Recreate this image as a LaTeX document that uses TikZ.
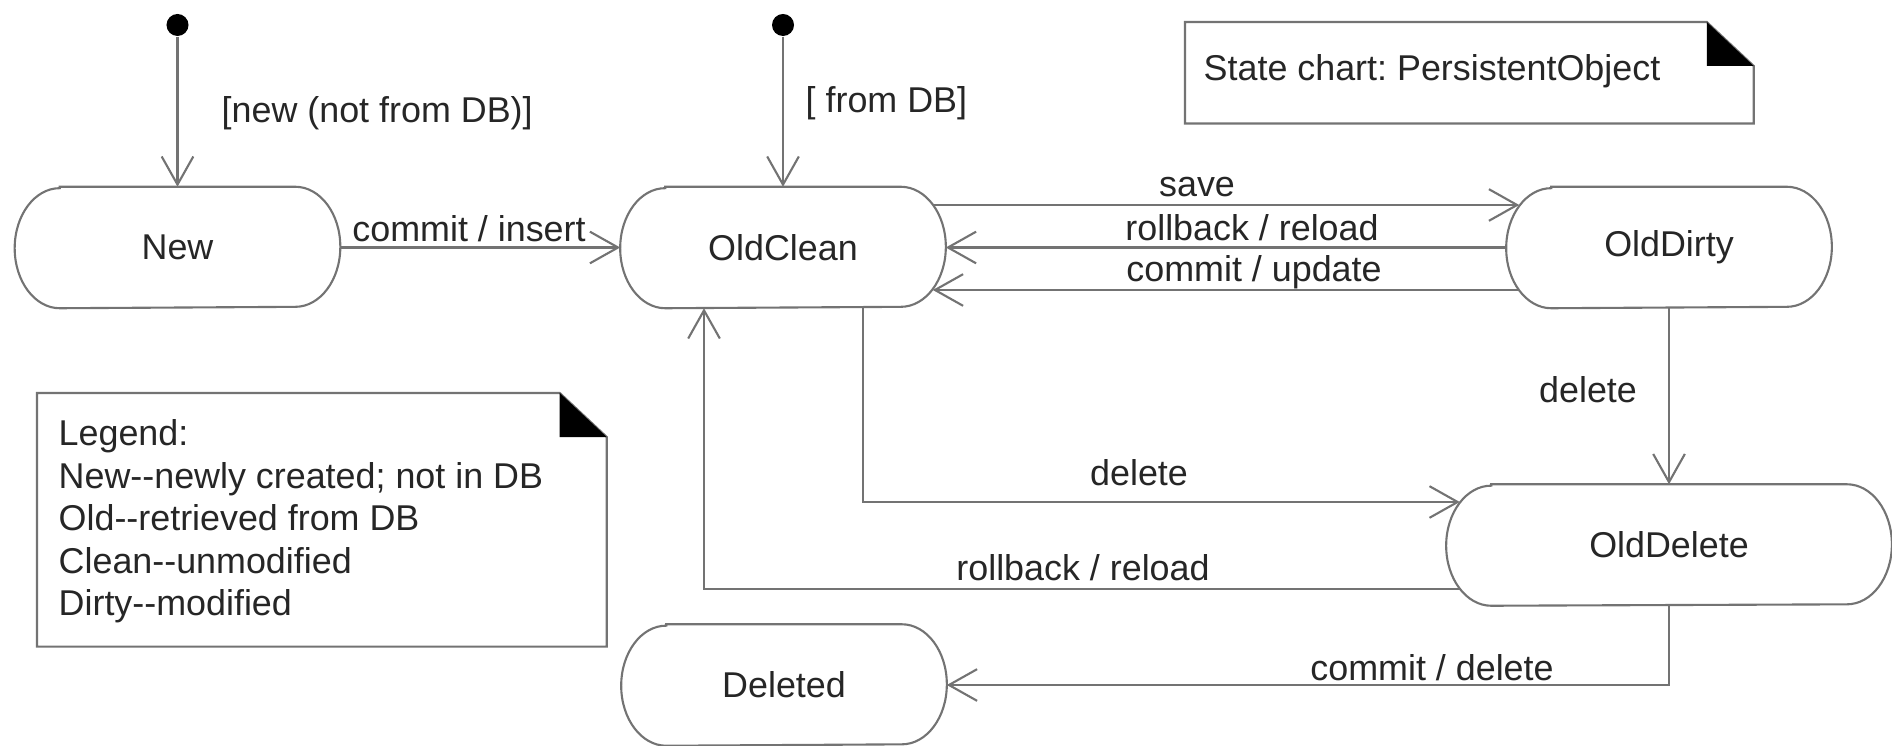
\documentclass[tikz,border=0pt]{standalone}
\usepackage{fontspec}
\setmainfont{Liberation Sans}
\usetikzlibrary{arrows.meta,calc}
\frenchspacing

% two plain hyphens, kept apart from the TeX en-dash ligature
\newcommand\dhyph{-\kern0pt-}

% outline of a state: straight top and bottom, elliptic ends
\newcommand\stateoutline[1]{%
  \draw[line] ($(#1.north west)+(45,0)$) -- ($(#1.north east)+(-45,0)$)
    arc[start angle=90, end angle=-90, x radius=0.45cm, y radius=0.6cm]
    -- ($(#1.south west)+(45,0)$)
    arc[start angle=270, end angle=90, x radius=0.45cm, y radius=0.6cm] -- cycle;}

% UML note with a black folded corner
\newcommand\noteoutline[1]{%
  \draw[line] (#1.north west) -- ($(#1.north east)+(-47,0)$)
    -- ($(#1.north east)+(0,-44)$) -- (#1.south east) -- (#1.south west) -- cycle;
  \fill[black] ($(#1.north east)+(-47,0)$) -- ($(#1.north east)+(-47,-44)$)
    -- ($(#1.north east)+(0,-44)$) -- cycle;}

\begin{document}
\begin{tikzpicture}[x=0.01cm, y=0.01cm,
  line/.style={draw=black!55, line width=0.6pt},
  trans/.style={line, -{Straight Barb[length=8pt,width=9pt]}},
  lbl/.style={inner sep=0pt, text=black!85, font=\fontsize{10.2pt}{12.1pt}\selectfont},
  stbox/.style={lbl, draw=none, minimum height=1.2cm, minimum width=3.24cm},
  notebox/.style={draw=none, inner sep=0pt, anchor=north west},
  dot/.style={circle, fill=black, inner sep=0pt, minimum size=0.22cm},
]
\useasboundingbox (0,0) rectangle (1892,-746);

% states
\node[stbox] (new)       at (177.5,-247.5) {New};
\node[stbox] (oldclean)  at (783,-247.5)   {OldClean};
\node[stbox] (olddirty)  at (1669,-247.5)  {OldDirty};
\node[stbox, minimum width=4.44cm] (olddelete) at (1669,-545) {OldDelete};
\node[stbox] (deleted)   at (784,-685)     {Deleted};
\stateoutline{new}
\stateoutline{oldclean}
\stateoutline{olddirty}
\stateoutline{olddelete}
\stateoutline{deleted}

% initial pseudo-states
\node[dot] (init1) at (177.5,-25) {};
\node[dot] (init2) at (783,-25) {};

% transitions
\draw[trans] (init1) -- (new.north);
\draw[trans] (init2) -- (oldclean.north);
\draw[trans] (new.east) -- (oldclean.west);
\draw[trans] ($(oldclean.east)+(-13,42.5)$) -- ($(olddirty.west)+(13,42.5)$);
\draw[trans] (olddirty.west) -- (oldclean.east);
\draw[trans] ($(olddirty.west)+(13,-42.5)$) -- ($(oldclean.east)+(-13,-42.5)$);
\draw[trans] ($(oldclean.south)+(80,0)$) |- ($(olddelete.west)+(13.6,43)$);
\draw[trans] ($(olddelete.west)+(14.4,-44)$) -| ($(oldclean.south)+(-79,0)$);
\draw[trans] (olddirty.south) -- (olddelete.north);
\draw[trans] (olddelete.south) |- (deleted.east);

% transition labels
\node[lbl, anchor=west] (gnew) at (221,-113) {[new (not from DB)]};
\node[lbl, anchor=west] (gdb)  at (805,-103) {[ from DB]};
\node[lbl] (lcommitins)  at (469,-229)  {commit / insert};
\node[lbl] (lsave)       at (1197,-187) {save};
\node[lbl] (lrollback)   at (1252,-228) {rollback / reload};
\node[lbl] (lcommitupd)  at (1254,-272) {commit / update};
\node[lbl] (ldelete)     at (1139,-473) {delete};
\node[lbl] (lrollback2)  at (1083,-568) {rollback / reload};
\node[lbl] (ldelete2)    at (1588,-390) {delete};
\node[lbl] (lcommitdel)  at (1432,-668) {commit / delete};

% title note
\node[notebox, minimum width=5.67cm, minimum height=1cm] (title) at (1185,-22) {};
\noteoutline{title}
\node[lbl, anchor=west] (titletext) at (1203,-71) {State chart: PersistentObject};

% legend note
\node[notebox, minimum width=5.68cm, minimum height=2.52cm] (legend) at (37,-393) {};
\noteoutline{legend}
\node[lbl, anchor=north west, align=left] (legendtext) at (58,-419)
  {Legend:\\New\dhyph newly created; not in DB\\Old\dhyph retrieved from DB\\Clean\dhyph unmodified\\Dirty\dhyph modified};
\end{tikzpicture}
\end{document}
